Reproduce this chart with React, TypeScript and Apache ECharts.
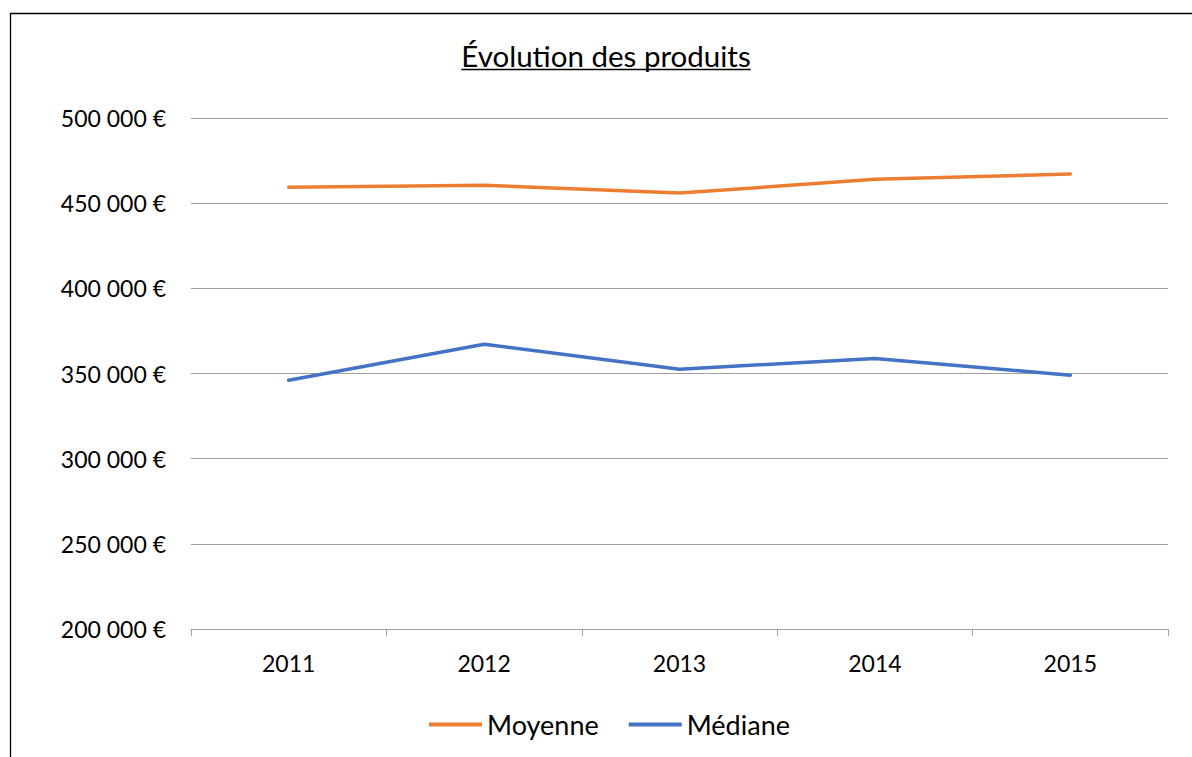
import React, { useEffect, useRef } from "react";
import * as echarts from "echarts";

const categories = ["2011", "2012", "2013", "2014", "2015"];
const moyenne = [459300, 460500, 455900, 464000, 467100];
const mediane = [346000, 367200, 352500, 358800, 349000];
const titleText = "Évolution des produits";
const seriesNames = ["Moyenne", "Médiane"];

const FONT = "Lato, 'Open Sans', sans-serif";

function measure(text: string, font: string): number {
  const c = document.createElement("canvas");
  const ctx = c.getContext("2d");
  if (!ctx) return text.length * 12;
  ctx.font = font;
  return ctx.measureText(text).width;
}

export default function App() {
  const ref = useRef<HTMLDivElement>(null);
  useEffect(() => {
    document.body.style.margin = "0";
    if (!ref.current) return;
    const chart = echarts.init(ref.current, null, { renderer: "svg" });
    const titleSize = 29.5;
    const tw = measure(titleText, `${titleSize}px Lato`);
    const cx = 606;
    const fmt = (v: number) =>
      String(v).replace(/\B(?=(\d{3})+(?!\d))/g, " ") + " €";
    chart.setOption({
      animation: false,
      backgroundColor: "#ffffff",
      grid: { left: 191, right: 24, top: 118, bottom: 128 },
      graphic: [
        {
          type: "rect",
          shape: { x: 10.5, y: 13.5, width: 1200, height: 800 },
          style: { fill: "none", stroke: "#000000", lineWidth: 1.3 },
          silent: true,
        },
        {
          type: "text",
          x: cx,
          y: 55,
          style: {
            text: titleText,
            font: `${titleSize}px ${FONT}`,
            fill: "#000000",
            textAlign: "center",
            textVerticalAlign: "middle",
          },
        },
        {
          type: "line",
          shape: { x1: cx - tw / 2, y1: 69.5, x2: cx + tw / 2, y2: 69.5 },
          style: { stroke: "#000000", lineWidth: 1.6 },
        },
      ],
      legend: {
        top: 706,
        left: 424,
        itemWidth: 53,
        itemHeight: 4,
        itemGap: 30,
        icon: "rect",
        data: seriesNames,
        textStyle: { fontSize: 27, fontFamily: FONT, color: "#000000" },
      },
      xAxis: {
        type: "category",
        data: categories,
        boundaryGap: true,
        axisLine: { lineStyle: { color: "#a0a0a0", width: 1 } },
        axisTick: { show: true, length: 7, lineStyle: { color: "#a0a0a0" } },
        axisLabel: { fontSize: 23, fontFamily: FONT, color: "#000000", margin: 22 },
      },
      yAxis: {
        type: "value",
        min: 200000,
        max: 500000,
        interval: 50000,
        axisLine: { show: false },
        axisTick: { show: false },
        splitLine: { lineStyle: { color: "#a0a0a0", width: 1 } },
        axisLabel: {
          fontSize: 23,
          fontFamily: FONT,
          color: "#000000",
          margin: 25,
          formatter: fmt,
        },
      },
      series: [
        {
          name: seriesNames[0],
          type: "line",
          data: moyenne,
          symbol: "none",
          lineStyle: { color: "#ED7D31", width: 3.5, cap: "round" },
          itemStyle: { color: "#ED7D31" },
        },
        {
          name: seriesNames[1],
          type: "line",
          data: mediane,
          symbol: "none",
          lineStyle: { color: "#4472C4", width: 3.5, cap: "round" },
          itemStyle: { color: "#4472C4" },
        },
      ],
    });
    return () => chart.dispose();
  }, []);
  return <div ref={ref} style={{ width: 1192, height: 757 }} />;
}
